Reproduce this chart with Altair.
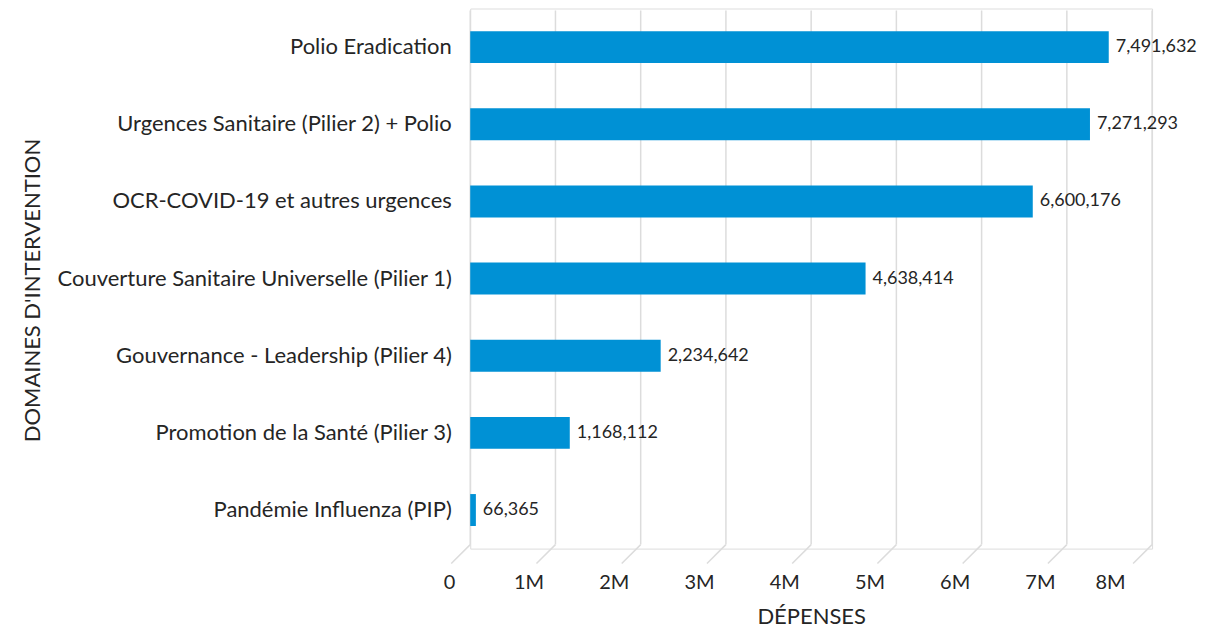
import altair as alt
import pandas as pd

categories = [
    "Polio Eradication",
    "Urgences Sanitaire (Pilier 2) + Polio",
    "OCR-COVID-19 et autres urgences",
    "Couverture Sanitaire Universelle (Pilier 1)",
    "Gouvernance - Leadership (Pilier 4)",
    "Promotion de la Santé (Pilier 3)",
    "Pandémie Influenza (PIP)",
]
values = [7491632, 7271293, 6600176, 4638414, 2234642, 1168112, 66365]
ticks = [0, 1e6, 2e6, 3e6, 4e6, 5e6, 6e6, 7e6, 8e6]

FONT = "Lato"
TXT = "#252525"
BLUE = "#0091D5"
GRID = "#dcdcdc"

df = pd.DataFrame({"cat": categories, "val": values})
df["lbl"] = [f"{v:,}" for v in values]
tdf = pd.DataFrame({"t": ticks})

xscale = alt.Scale(domain=[0, 8e6], nice=False, zero=True)

xaxis = alt.Axis(
    values=ticks,
    labelExpr="datum.value == 0 ? '0' : (datum.value / 1000000) + 'M'",
    grid=False, domain=False, ticks=False,
    labelFont=FONT, labelFontSize=20, labelColor=TXT,
    labelPadding=24, labelOffset=-27,
    title="DÉPENSES", titleFont=FONT, titleFontSize=22, titleFontWeight="normal",
    titleColor=TXT, titlePadding=14,
)
yaxis = alt.Axis(
    domain=False, ticks=False, grid=False,
    labelFont=FONT, labelFontSize=22, labelColor=TXT, labelPadding=19, labelLimit=600,
    title="DOMAINES D'INTERVENTION", titleFont=FONT, titleFontSize=22,
    titleFontWeight="normal", titleColor=TXT, titleX=-426, titleY=282,
)

grid_v = alt.Chart(tdf).mark_rule(color=GRID, strokeWidth=1.5).encode(
    x=alt.X("t:Q", scale=xscale, axis=xaxis),
    y=alt.value(2), y2=alt.value(537),
)
grid_d = alt.Chart(tdf).mark_rule(color=GRID, strokeWidth=1.5, x2Offset=-19).encode(
    x=alt.X("t:Q", scale=xscale),
    x2="t:Q",
    y=alt.value(537), y2=alt.value(556),
)

bars = alt.Chart(df).mark_bar(color=BLUE, size=32).encode(
    x=alt.X("val:Q", scale=xscale),
    y=alt.Y("cat:N", sort=categories, axis=yaxis),
)
labels = alt.Chart(df).mark_text(
    align="left", baseline="middle", dx=7, font=FONT, fontSize=18, color=TXT
).encode(
    x=alt.X("val:Q", scale=xscale),
    y=alt.Y("cat:N", sort=categories),
    text="lbl:N",
)

chart = alt.layer(grid_v, grid_d, bars, labels).properties(
    width=683, height=541,
    padding={"left": 13, "top": 0, "right": 0, "bottom": 0},
).configure_view(stroke=None).configure(background="white")

chart.save("out.html", embed_options={"renderer": "svg", "actions": False})
